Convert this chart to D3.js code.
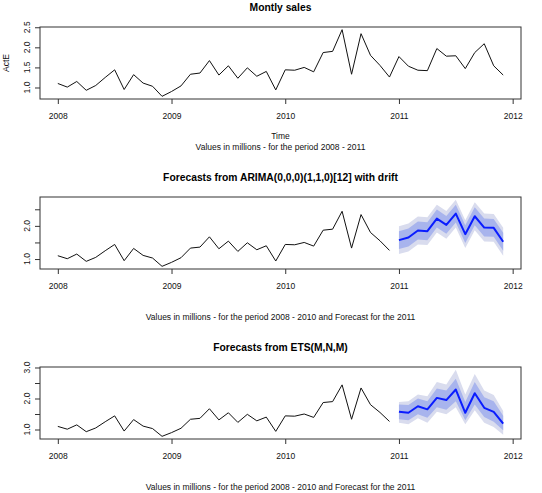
<!DOCTYPE html>
<html>
<head>
<meta charset="utf-8">
<script src="https://cdn.jsdelivr.net/npm/d3@7"></script>
<style>
  html, body { margin: 0; padding: 0; background: #ffffff; }
  svg { display: block; font-family: "Liberation Sans", Arial, Helvetica, sans-serif; }
</style>
</head>
<body>
<svg id="chart" width="542" height="493"></svg>
<script>
// ---------------- DATA ----------------
const startYear = 2008;
const xTickYears = [2008, 2009, 2010, 2011, 2012];

// Monthly sales (millions), Jan 2008 .. Dec 2011
const sales = [
  1.10, 1.01, 1.15, 0.93, 1.05, 1.25, 1.44, 0.95, 1.32, 1.11, 1.03, 0.78,
  0.90, 1.04, 1.33, 1.36, 1.67, 1.31, 1.54, 1.23, 1.49, 1.28, 1.40, 0.94,
  1.44, 1.43, 1.50, 1.39, 1.87, 1.90, 2.44, 1.33, 2.34, 1.80, 1.55, 1.26,
  1.77, 1.53, 1.43, 1.42, 1.97, 1.78, 1.79, 1.47, 1.87, 2.09, 1.54, 1.31
];
const historyMonths = 36; // 2008 - 2010 used for the forecasts

// ARIMA(0,0,0)(1,1,0)[12] with drift forecasts for 2011
const arimaMean = [1.57, 1.65, 1.86, 1.84, 2.22, 2.03, 2.37, 1.75, 2.29, 1.95, 1.94, 1.52];
const arimaLo80 = [1.30, 1.38, 1.59, 1.57, 1.95, 1.76, 2.10, 1.48, 2.02, 1.68, 1.67, 1.25];
const arimaHi80 = [1.84, 1.92, 2.13, 2.11, 2.49, 2.30, 2.64, 2.02, 2.56, 2.22, 2.21, 1.79];
const arimaLo95 = [1.15, 1.23, 1.44, 1.42, 1.80, 1.61, 1.95, 1.33, 1.87, 1.53, 1.52, 1.10];
const arimaHi95 = [1.99, 2.07, 2.28, 2.26, 2.64, 2.45, 2.79, 2.17, 2.71, 2.37, 2.36, 1.94];

// ETS(M,N,M) forecasts for 2011
const etsMean = [1.57, 1.54, 1.75, 1.65, 2.02, 1.95, 2.29, 1.54, 2.17, 1.70, 1.57, 1.19];
const etsLo80 = [1.33, 1.30, 1.49, 1.38, 1.72, 1.64, 1.91, 1.30, 1.81, 1.40, 1.25, 0.98];
const etsHi80 = [1.81, 1.79, 2.00, 1.91, 2.32, 2.26, 2.64, 1.89, 2.53, 2.04, 1.91, 1.44];
const etsLo95 = [1.22, 1.17, 1.36, 1.22, 1.57, 1.49, 1.72, 1.17, 1.62, 1.22, 1.08, 0.83];
const etsHi95 = [1.89, 1.91, 2.13, 2.07, 2.53, 2.45, 2.93, 2.13, 2.79, 2.26, 2.11, 1.60];

// Y axis ticks and labels per panel
const yTicks1 = [1.0, 1.5, 2.0, 2.5];
const yLabels1 = [1.0, 1.5, 2.0, 2.5];
const yTicks2 = [1.0, 1.5, 2.0, 2.5];
const yLabels2 = [1.0, 2.0];
const yTicks3 = [1.0, 1.5, 2.0, 2.5, 3.0];
const yLabels3 = [1.0, 2.0, 3.0];

const titles = [
  "Montly sales",
  "Forecasts from ARIMA(0,0,0)(1,1,0)[12] with drift",
  "Forecasts from ETS(M,N,M)"
];
const subtitles = [
  "Values in millions - for the period 2008 - 2011",
  "Values in millions - for the period 2008 - 2010 and Forecast for the 2011",
  "Values in millions - for the period 2008 - 2010 and Forecast for the 2011"
];
const xLabel = "Time";
const yLabel = "ActE";

// ---------------- DRAWING ----------------
const svg = d3.select("#chart");
const plotLeft = 40, plotRight = 521, plotH = 72;
const panelTops = [27, 197, 367];
const tickFont = 8.5, titleFont = 10.3;
const band95 = "#d9dcee", band80 = "#a8b4ed", fcColor = "#0a1cff";

const timeOf = i => startYear + i / 12;
const tAll = sales.map((d, i) => timeOf(i));
const tFc = arimaMean.map((d, i) => timeOf(historyMonths + i));

function padded(lo, hi) { const r = hi - lo; return [lo - 0.04 * r, hi + 0.04 * r]; }

const x = d3.scaleLinear()
  .domain(padded(tAll[0], tAll[tAll.length - 1]))
  .range([plotLeft, plotRight]);

function panel(idx, opts) {
  const top = panelTops[idx], bottom = top + plotH;
  const y = d3.scaleLinear().domain(opts.yDomain).range([bottom, top]);
  const g = svg.append("g");

  // bands
  if (opts.fc) {
    const fc = opts.fc;
    const area = (lo, hi) => d3.area()
      .x((d, i) => x(tFc[i])).y0((d, i) => y(lo[i])).y1((d, i) => y(hi[i]));
    g.append("path").attr("d", area(fc.lo95, fc.hi95)(fc.mean))
      .attr("fill", band95).attr("stroke", "none");
    g.append("path").attr("d", area(fc.lo80, fc.hi80)(fc.mean))
      .attr("fill", band80).attr("stroke", "none");
  }

  // history line
  const line = d3.line().x(d => x(d[0])).y(d => y(d[1]));
  const hist = opts.series.map((v, i) => [tAll[i], v]);
  g.append("path").attr("d", line(hist)).attr("fill", "none")
    .attr("stroke", "#111").attr("stroke-width", 1).attr("stroke-linejoin", "round");

  // forecast mean line
  if (opts.fc) {
    const fcPts = opts.fc.mean.map((v, i) => [tFc[i], v]);
    g.append("path").attr("d", line(fcPts)).attr("fill", "none")
      .attr("stroke", fcColor).attr("stroke-width", 2).attr("stroke-linejoin", "round");
  }

  // box
  g.append("rect").attr("x", plotLeft).attr("y", top)
    .attr("width", plotRight - plotLeft).attr("height", plotH)
    .attr("fill", "none").attr("stroke", "#333").attr("stroke-width", 1);

  // x axis
  const xAxis = d3.axisBottom(x).tickValues(xTickYears).tickFormat(d3.format("d"))
    .tickSize(5).tickSizeOuter(0);
  const xa = g.append("g").attr("transform", `translate(0,${bottom})`).call(xAxis);
  xa.select(".domain").remove();
  xa.selectAll("line").attr("stroke", "#333");
  xa.selectAll("text").attr("font-size", tickFont).attr("fill", "#111")
    .attr("font-family", "Liberation Sans, Arial, sans-serif")
    .attr("dy", null).attr("y", 20);

  // y axis ticks
  const yAxis = d3.axisLeft(y).tickValues(opts.yTicks).tickFormat("").tickSize(5).tickSizeOuter(0);
  const ya = g.append("g").attr("transform", `translate(${plotLeft},0)`).call(yAxis);
  ya.select(".domain").remove();
  ya.selectAll("line").attr("stroke", "#333");
  // y tick labels (rotated, parallel to axis)
  g.selectAll(".ylab").data(opts.yLabels).enter().append("text")
    .attr("class", "ylab")
    .attr("transform", d => `translate(${plotLeft - 10.5},${y(d)}) rotate(-90)`)
    .attr("text-anchor", "middle").attr("font-size", tickFont).attr("fill", "#111")
    .text(d => d3.format(".1f")(d));

  // title
  g.append("text").attr("x", (plotLeft + plotRight) / 2).attr("y", top - 16)
    .attr("text-anchor", "middle").attr("font-size", titleFont).attr("font-weight", "bold")
    .attr("fill", "#000").text(titles[idx]);

  // subtitle
  g.append("text").attr("x", (plotLeft + plotRight) / 2).attr("y", bottom + 51)
    .attr("text-anchor", "middle").attr("font-size", tickFont).attr("fill", "#111")
    .text(subtitles[idx]);

  if (opts.axisLabels) {
    g.append("text").attr("x", (plotLeft + plotRight) / 2).attr("y", bottom + 40)
      .attr("text-anchor", "middle").attr("font-size", tickFont).attr("fill", "#111").text(xLabel);
    g.append("text").attr("transform", `translate(9,${(top + bottom) / 2}) rotate(-90)`)
      .attr("text-anchor", "middle").attr("font-size", tickFont).attr("fill", "#111").text(yLabel);
  }
}

// Panel 1
panel(0, {
  series: sales,
  yDomain: padded(d3.min(sales), d3.max(sales)),
  yTicks: yTicks1, yLabels: yLabels1, axisLabels: true
});

// Panel 2
const hist = sales.slice(0, historyMonths);
panel(1, {
  series: hist,
  yDomain: padded(Math.min(d3.min(hist), d3.min(arimaLo95)), Math.max(d3.max(hist), d3.max(arimaHi95))),
  yTicks: yTicks2, yLabels: yLabels2,
  fc: { mean: arimaMean, lo80: arimaLo80, hi80: arimaHi80, lo95: arimaLo95, hi95: arimaHi95 }
});

// Panel 3
panel(2, {
  series: hist,
  yDomain: padded(Math.min(d3.min(hist), d3.min(etsLo95)), Math.max(d3.max(hist), d3.max(etsHi95))),
  yTicks: yTicks3, yLabels: yLabels3,
  fc: { mean: etsMean, lo80: etsLo80, hi80: etsHi80, lo95: etsLo95, hi95: etsHi95 }
});
</script>
</body>
</html>
